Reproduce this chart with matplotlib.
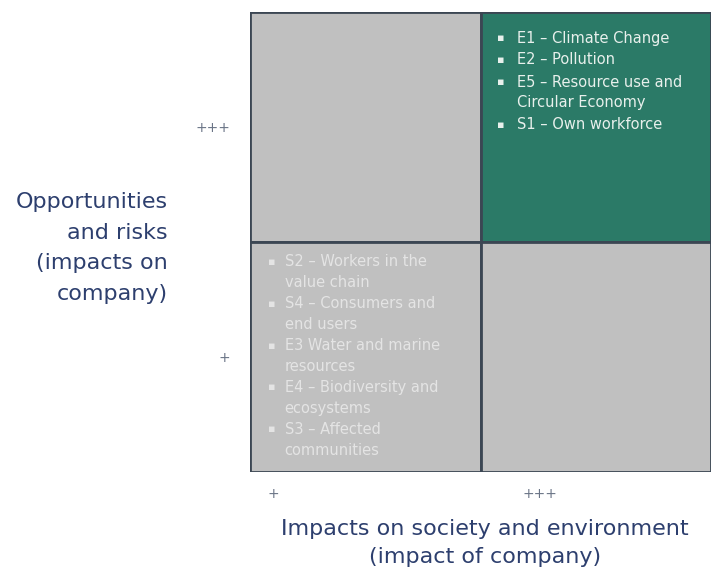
import matplotlib.pyplot as plt

# quadrant grid: column (0 = low impact, 1 = high), row (0 = low, 1 = high)
cell_cols = [0, 1, 0, 1]
cell_rows = [1, 1, 0, 0]
cell_colors = ['#c0c0c0', '#2b7a67', '#c0c0c0', '#c0c0c0']

top_right_items = ["E1 – Climate Change", "E2 – Pollution",
                   "E5 – Resource use and\nCircular Economy", "S1 – Own workforce"]
bottom_left_items = ["S2 – Workers in the\nvalue chain", "S4 – Consumers and\nend users",
                     "E3 Water and marine\nresources", "E4 – Biodiversity and\necosystems",
                     "S3 – Affected\ncommunities"]

x_tick_labels = ["+", "+++"]
y_tick_labels = ["+", "+++"]

navy = '#2d3f6e'
plt.rcParams['font.family'] = ['DejaVu Sans']

fig = plt.figure(figsize=(7.13, 5.75), dpi=100)
ax = fig.add_axes([250 / 713, 1 - 472 / 575, 461 / 713, 460 / 575])

ax.bar(cell_cols, [1] * 4, bottom=cell_rows, width=1, align='edge',
       color=cell_colors, edgecolor='#3b4653', linewidth=2)
ax.set_xlim(0, 2)
ax.set_ylim(0, 2)


def write_items(items, x_bullet, x_text, y_start, step, color, gap=0.0):
    y = y_start
    for item in items:
        lines = item.split("\n")
        ax.text(x_bullet, y, "▪", color=color, fontsize=8, va='center',
                transform=ax.transAxes)
        for line in lines:
            ax.text(x_text, y, line, color=color, fontsize=10.5, va='center',
                    transform=ax.transAxes)
            y -= step
        y -= gap


write_items(top_right_items, 0.536, 0.579, (472 - 38) / 460, 20.5 / 460, '#e8f0ec', gap=1.5 / 460)
write_items(bottom_left_items, 0.040, 0.075, (472 - 262) / 460, 20.9 / 460, '#e4e4e4')

ax.set_xticks([0.1, 1.26])
ax.set_xticklabels(x_tick_labels)
ax.set_yticks([0.5, 1.5])
ax.set_yticklabels(y_tick_labels)
ax.tick_params(length=0, labelsize=10, labelcolor='#6a7486')
ax.tick_params(axis='x', pad=11)
ax.tick_params(axis='y', pad=14)
for s in ax.spines.values():
    s.set_visible(False)

fig.text(168 / 713, 1 - 248 / 575, "Opportunities\nand risks\n(impacts on\ncompany)",
         ha='right', va='center', fontsize=16, color=navy, linespacing=1.68)
fig.text(485 / 713, 1 - 543 / 575, "Impacts on society and environment\n(impact of company)",
         ha='center', va='center', fontsize=16, color=navy, linespacing=1.55)

fig.savefig('out.png', dpi=100)
